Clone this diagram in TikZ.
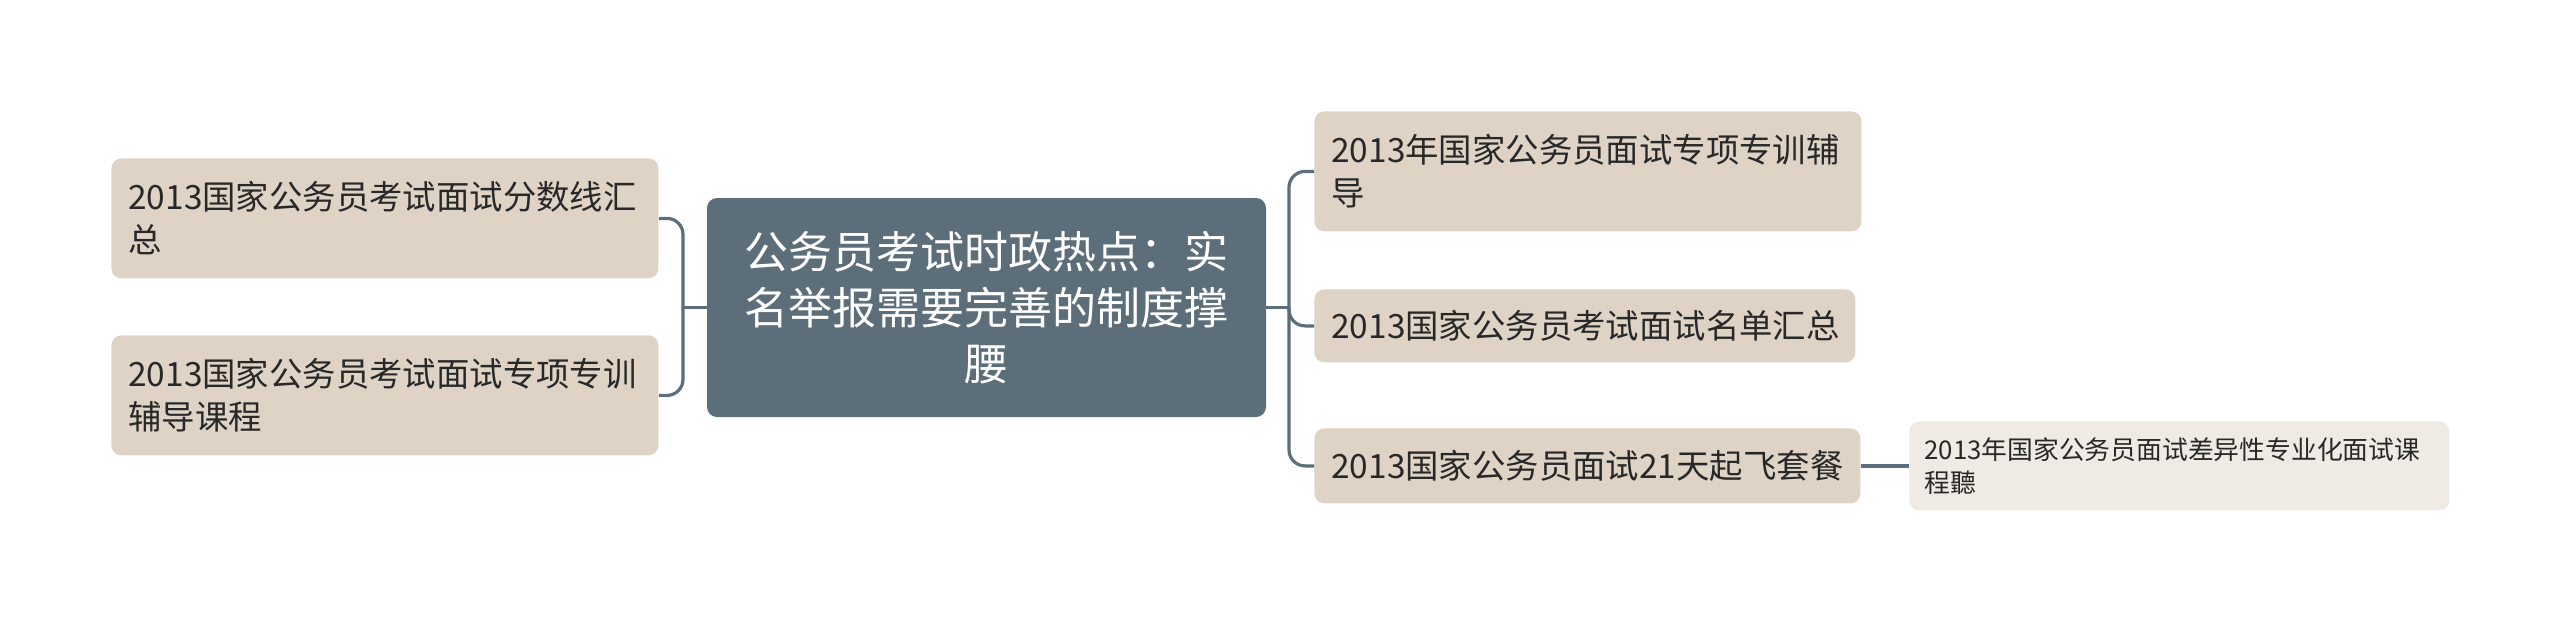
\documentclass[tikz,border=0pt]{standalone}
\usepackage{fontspec}
\setmainfont{Noto Sans CJK SC}
\definecolor{beige}{RGB}{222,211,196}
\definecolor{light}{RGB}{239,235,228}
\definecolor{slate}{RGB}{92,110,122}
\definecolor{ink}{RGB}{40,40,40}
\begin{document}
\begin{tikzpicture}[x=0.5pt,y=-0.5pt,
  leaf/.style={fill=beige, rounded corners=5pt, text=ink, anchor=north west,
    font=\fontsize{16.7pt}{21.5pt}\selectfont, align=left, inner xsep=8.5pt, inner ysep=0pt},
  sub/.style={fill=light, rounded corners=5pt, text=ink, anchor=north west,
    font=\fontsize{12.9pt}{16.5pt}\selectfont, align=left, inner xsep=7.5pt, inner ysep=0pt},
  root/.style={fill=slate, rounded corners=5pt, text=white, align=center,
    font=\fontsize{22pt}{28pt}\selectfont, inner sep=0pt},
  conn/.style={draw=slate, line width=1.6pt, rounded corners=8pt}]
\useasboundingbox (0,0) rectangle (2560,622);
\node[root, minimum width=279.5pt, minimum height=109.5pt] (c) at (986.5,307.5)
  {公务员考试时政热点：实\\名举报需要完善的制度撑\\腰};
\node[leaf, text width=256.5pt, minimum height=60pt] (l1) at (111,158)
  {2013国家公务员考试面试分数线汇\\总};
\node[leaf, text width=256.5pt, minimum height=60pt] (l2) at (111,335)
  {2013国家公务员考试面试专项专训\\辅导课程};
\node[leaf, text width=256.5pt, minimum height=60pt] (r1) at (1314,111)
  {2013年国家公务员面试专项专训辅\\导};
\node[leaf, text width=253.5pt, minimum height=36.5pt] (r2) at (1314,289)
  {2013国家公务员考试面试名单汇总};
\node[leaf, text width=256pt, minimum height=37.5pt] (r3) at (1314,428)
  {2013国家公务员面试21天起飞套餐};
\node[sub, text width=255pt, minimum height=44.5pt] (f1) at (1909,421)
  {2013年国家公务员面试差异性专业化面试课\\程聽};
\coordinate (tl) at (683,307.5);
\coordinate (tr) at (1289,307.5);
\draw[conn] (c.west) -- (tl);
\draw[conn] (l1.east) -| (tl) |- (l2.east);
\draw[conn] (c.east) -- (tr);
\draw[conn] (r1.west) -| (tr) |- (r3.west);
\draw[conn] (tr) |- (r2.west);
\draw[conn] (r3.east) -- (f1.west);
\end{tikzpicture}
\end{document}
